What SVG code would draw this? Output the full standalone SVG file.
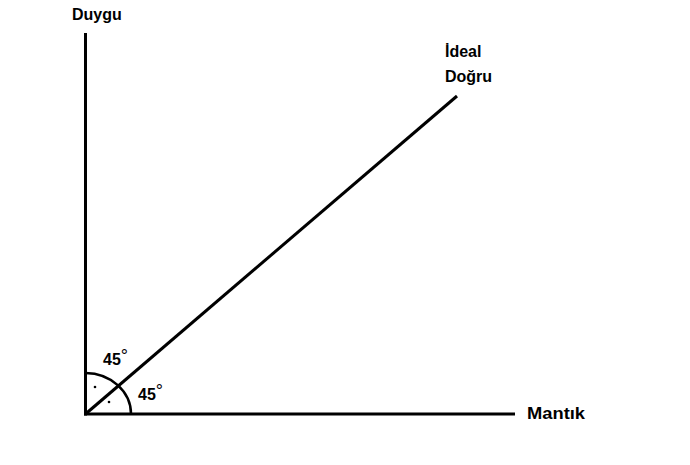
<svg xmlns="http://www.w3.org/2000/svg" width="690" height="465" viewBox="0 0 690 465">
<style>
.ln{stroke:#000;stroke-width:3;fill:none;stroke-linecap:butt}
.arc{stroke:#000;stroke-width:2.5;fill:none}
.lbl{font-family:"Liberation Sans","DejaVu Sans",sans-serif;font-weight:bold;font-size:16px;fill:#000}
.deg{font-size:18px;font-weight:normal}
</style>
<rect width="690" height="465" fill="#fff"/>
<g id="connectors">
<line class="ln" x1="85.5" y1="33" x2="85.5" y2="415.5"/>
<line class="ln" x1="84" y1="414" x2="515" y2="414"/>
<line class="ln" x1="85.5" y1="414" x2="457" y2="96"/>
</g>
<g id="angle">
<path class="arc" d="M85.5 373 A46 41 0 0 1 131 414"/>
<circle cx="95" cy="387" r="1.3" fill="#000"/>
<circle cx="109" cy="402" r="1.3" fill="#000"/>
</g>
<g id="duygu"><text class="lbl" x="72" y="20">Duygu</text></g>
<g id="mantik"><text class="lbl" x="527" y="419" textLength="58" lengthAdjust="spacingAndGlyphs">Mantık</text></g>
<g id="ideal"><text class="lbl" x="445" y="57">İdeal</text><text class="lbl" x="445" y="82">Doğru</text></g>
<g id="angle-upper"><text class="lbl" x="103" y="365">45<tspan class="deg" dy="-3">°</tspan></text></g>
<g id="angle-lower"><text class="lbl" x="138" y="400">45<tspan class="deg" dy="-3">°</tspan></text></g>
</svg>
